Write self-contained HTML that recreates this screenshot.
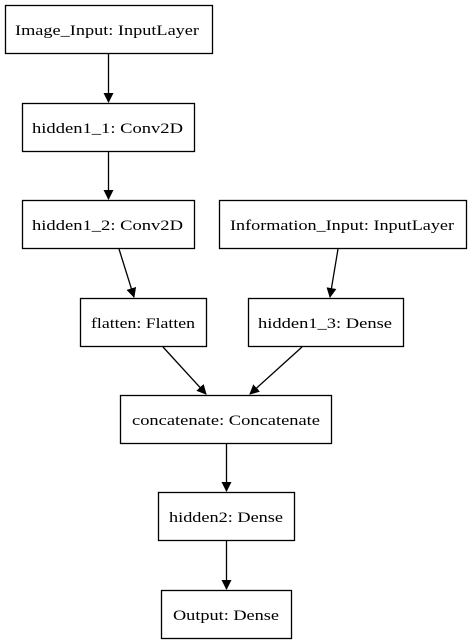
<!DOCTYPE html>
<html><head><style>
body{margin:0;width:473px;height:644px;background:#fff;overflow:hidden}
svg{position:absolute;left:0;top:0}
text{font-family:"Liberation Serif",serif;font-size:15px;fill:#000}
</style></head><body>
<svg width="473" height="644" viewBox="0 0 473 644">
<defs><marker id="a" markerWidth="10" markerHeight="10" refX="9" refY="5" orient="auto" markerUnits="userSpaceOnUse"><path d="M0,0 L10,5 L0,10 z" fill="#000"/></marker></defs>
<g fill="none" stroke="#000" stroke-width="1.3">
<rect x="5.5" y="5.5" width="207" height="48"/>
<rect x="22.5" y="103.5" width="172" height="48"/>
<rect x="22.5" y="200.5" width="172" height="48"/>
<rect x="219.5" y="200.5" width="247" height="48"/>
<rect x="80.5" y="298.5" width="126" height="48"/>
<rect x="248.5" y="298.5" width="155" height="48"/>
<rect x="120.5" y="395.5" width="211" height="48"/>
<rect x="158.5" y="492.5" width="136" height="48"/>
<rect x="161.5" y="590.5" width="130" height="48"/>
<line x1="108.5" y1="54" x2="108.5" y2="102" marker-end="url(#a)"/>
<line x1="108.5" y1="152" x2="108.5" y2="199" marker-end="url(#a)"/>
<line x1="119" y1="249" x2="134" y2="297" marker-end="url(#a)"/>
<line x1="338" y1="249" x2="330" y2="297" marker-end="url(#a)"/>
<line x1="163" y1="347" x2="206" y2="394" marker-end="url(#a)"/>
<line x1="302" y1="347" x2="250" y2="394" marker-end="url(#a)"/>
<line x1="226.5" y1="444" x2="226.5" y2="491" marker-end="url(#a)"/>
<line x1="226.5" y1="541" x2="226.5" y2="589" marker-end="url(#a)"/>
</g>
<g>
<text x="15" y="35" textLength="184" lengthAdjust="spacingAndGlyphs">Image_Input: InputLayer</text>
<text x="32" y="133" textLength="151" lengthAdjust="spacingAndGlyphs">hidden1_1: Conv2D</text>
<text x="32" y="230" textLength="151" lengthAdjust="spacingAndGlyphs">hidden1_2: Conv2D</text>
<text x="230" y="230" textLength="224" lengthAdjust="spacingAndGlyphs">Information_Input: InputLayer</text>
<text x="91" y="328" textLength="104" lengthAdjust="spacingAndGlyphs">flatten: Flatten</text>
<text x="258" y="328" textLength="134" lengthAdjust="spacingAndGlyphs">hidden1_3: Dense</text>
<text x="132" y="425" textLength="188" lengthAdjust="spacingAndGlyphs">concatenate: Concatenate</text>
<text x="169" y="522" textLength="114" lengthAdjust="spacingAndGlyphs">hidden2: Dense</text>
<text x="173" y="620" textLength="106" lengthAdjust="spacingAndGlyphs">Output: Dense</text>
</g>
</svg>
</body></html>
